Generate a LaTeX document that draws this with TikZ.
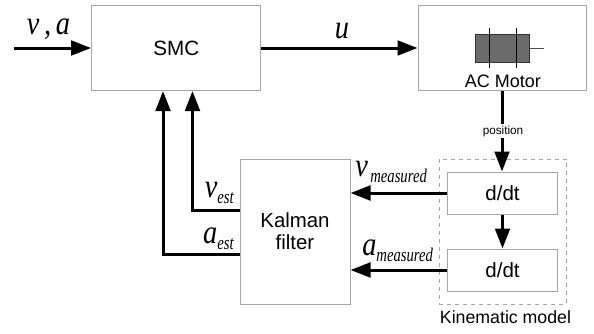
\documentclass[tikz,border=0pt]{standalone}
\usepackage{fontspec}
\usepackage{graphicx}
\setmainfont{Liberation Sans}
\newfontfamily\serifit[ItalicFont=Liberation Serif Italic]{Liberation Serif}
\usetikzlibrary{arrows.meta,calc}
\newcommand{\fs}[1]{\fontsize{#1}{#1}\selectfont}
\newcommand{\bigit}[1]{\scalebox{.85}[1]{\serifit\itshape\fs{25}#1}}
\newcommand{\vlab}[2]{\bigit{#1}\raisebox{-4.5pt}{\scalebox{.76}[1]{\serifit\itshape\fs{14.5}#2}}}
\tikzset{
  block/.style={draw=black!35,line width=.75pt,fill=white,inner sep=0pt,align=center},
  arr/.style={line width=2.25pt,-{Triangle[length=15pt,width=11pt]},line join=miter},
  txt/.style={inner sep=0pt,anchor=base},
}
\begin{document}
\begin{tikzpicture}[x=.75pt,y=-.75pt]
\useasboundingbox (0,0) rectangle (594,333);
\fill[white] (0,0) rectangle (594,333);
% dashed group
\node[draw=black!35,dashed,line width=.6pt,inner sep=0pt,minimum width=95.6pt,minimum height=108.75pt] (kin) at (502.75,231.5) {};
% blocks
\node[block,minimum width=127pt,minimum height=64pt,font=\fs{15.5}] (smc) at (176.25,48) {SMC};
\node[block,minimum width=126pt,minimum height=64pt] (motor) at (502,48) {};
\node[block,minimum width=83pt,minimum height=31.5pt,font=\fs{15.4}] (d1) at (502.5,193) {d/dt};
\node[block,minimum width=83pt,minimum height=31.5pt,font=\fs{15.4}] (d2) at (502.5,270) {d/dt};
\node[block,minimum width=82.5pt,minimum height=108.75pt,font=\fs{15.3}] (kal) at (295,231.5) {Kalman\\[1pt]filter};
% motor icon
\fill[black!58,draw=black!80,line width=.75pt] (475.5,34) rectangle (529.5,62);
\draw[black,line width=.6pt] (489,28) -- (489,68) (516,28) -- (516,68);
\draw[black!70,line width=.6pt] (529.5,48) -- (544,48);
\node[txt,font=\fs{13.5}] (mlab) at (503,87) {AC Motor};
% connectors
\coordinate (in) at (14,48);
\coordinate (vs) at (192.5,91);
\coordinate (as) at (163,91);
\coordinate (vk) at (240,210);
\coordinate (ak) at (240,254);
\draw[arr] (in) -- (smc.west);
\draw[arr] (smc.east) -- (motor.west);
\draw[arr] (motor.south) -- (d1.north -| motor.south);
\draw[arr] (d1.south) -- (d2.north);
\draw[arr] (d1.west) -- (kal.east |- d1.west);
\draw[arr] (d2.west) -- (kal.east |- d2.west);
\draw[arr] (vk) -| (vs);
\draw[arr] (ak) -| (as);
% labels
\node[fill=white,inner sep=1.5pt,font=\fs{8.8}] (pos) at (503,131) {position};
\node[txt,font=\fs{13.3}] (kinlab) at (505.5,323) {Kinematic model};
\node[txt] (linput) at (48.5,34) {\bigit{v\,,\,a}};
\node[txt] (lu) at (342,38) {\bigit{u}};
\node[txt,anchor=base east] (lve) at (234,197) {\vlab{v}{est}};
\node[txt,anchor=base east] (lae) at (234,243) {\vlab{a}{est}};
\node[txt,anchor=base west] (lvm) at (355,176) {\vlab{v}{\,measured}};
\node[txt,anchor=base west] (lam) at (362,255) {\vlab{a}{measured}};
\end{tikzpicture}
\end{document}
